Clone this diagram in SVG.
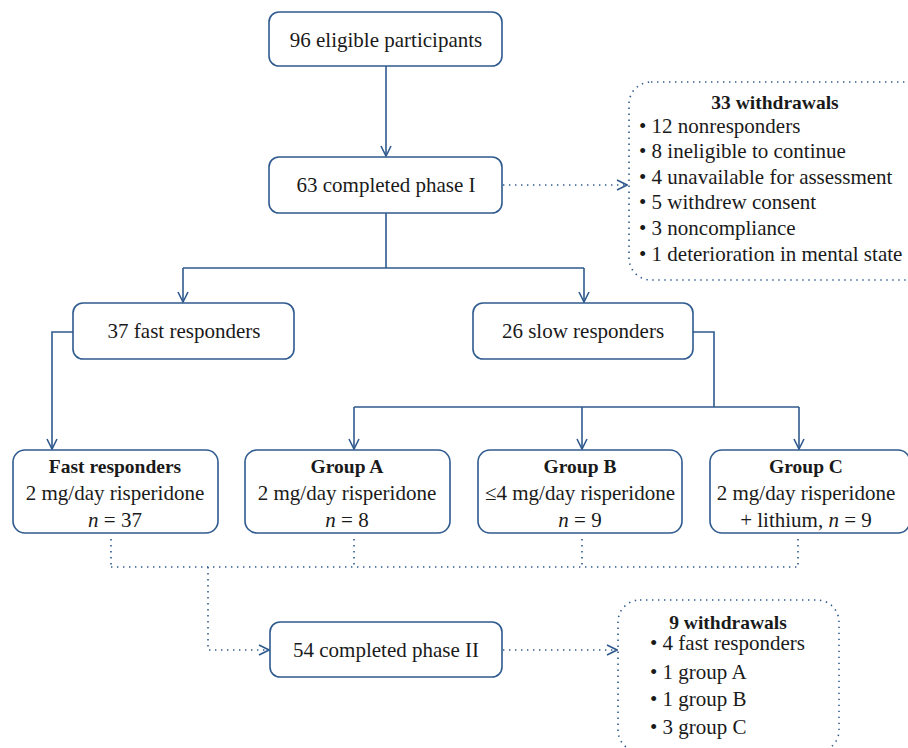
<svg xmlns="http://www.w3.org/2000/svg" width="908" height="748" viewBox="0 0 908 748">
<defs>
<style>
.box{fill:#fff;stroke:#2f5a8e;stroke-width:1.6}
.dbox{fill:none;stroke:#2f5a8e;stroke-width:1.6;stroke-dasharray:1.4 4.6}
.ln{fill:none;stroke:#2f5a8e;stroke-width:1.6}
.dl{fill:none;stroke:#2f5a8e;stroke-width:1.6;stroke-dasharray:1.4 4.6}
text{font-family:"Liberation Serif","DejaVu Serif",serif;font-size:21px;fill:#1a1a1a}
.c{text-anchor:middle}
.b{font-weight:bold;font-size:19.5px}
.i{font-style:italic}
</style>
<marker id="ah" viewBox="0 0 12 12" refX="11" refY="6" markerWidth="12" markerHeight="12" markerUnits="userSpaceOnUse" orient="auto">
<path d="M1,1 L11,6 L1,11" fill="none" stroke="#2f5a8e" stroke-width="1.6"/>
</marker>
</defs>
<rect width="908" height="748" fill="#fff"/>
<g id="connectors">
<path class="ln" d="M386,66 V156" marker-end="url(#ah)"/>
<path class="dl" d="M503,185 H627" marker-end="url(#ah)"/>
<path class="ln" d="M386,213 V268 M183,268 H584"/>
<path class="ln" d="M183,268 V302" marker-end="url(#ah)"/>
<path class="ln" d="M584,268 V302" marker-end="url(#ah)"/>
<path class="ln" d="M73,332 H52 V449" marker-end="url(#ah)"/>
<path class="ln" d="M693,332 H714 V407 M354,407 H799"/>
<path class="ln" d="M354,407 V449" marker-end="url(#ah)"/>
<path class="ln" d="M582,407 V449" marker-end="url(#ah)"/>
<path class="ln" d="M799,407 V449" marker-end="url(#ah)"/>
<path class="dl" d="M111,539 V567 M354,539 V567 M582,539 V567 M798,539 V567 M111,567 H798"/>
<path class="dl" d="M208,567 V650 H269" marker-end="url(#ah)"/>
<path class="dl" d="M503,650 H617" marker-end="url(#ah)"/>
</g>
<g id="n1"><rect class="box" x="269" y="12" width="233" height="54" rx="10"/><text class="c" x="386" y="47">96 eligible participants</text></g>
<g id="n2"><rect class="box" x="269" y="157" width="233" height="56" rx="10"/><text class="c" x="386" y="192">63 completed phase I</text></g>
<g id="w1"><rect class="dbox" x="629" y="82" width="300" height="198" rx="22"/>
<text class="c b" x="775" y="109">33 withdrawals</text>
<text x="639" y="133">• 12 nonresponders</text>
<text x="639" y="158">• 8 ineligible to continue</text>
<text x="639" y="184">• 4 unavailable for assessment</text>
<text x="639" y="209">• 5 withdrew consent</text>
<text x="639" y="235">• 3 noncompliance</text>
<text x="639" y="261">• 1 deterioration in mental state</text>
</g>
<g id="n3"><rect class="box" x="73" y="303" width="221" height="56" rx="10"/><text class="c" x="184" y="338">37 fast responders</text></g>
<g id="n4"><rect class="box" x="473" y="303" width="220" height="56" rx="10"/><text class="c" x="583" y="338">26 slow responders</text></g>
<g id="n5"><rect class="box" x="13" y="450" width="205" height="83" rx="12"/>
<text class="c b" x="115" y="473">Fast responders</text>
<text class="c" x="115" y="500">2 mg/day risperidone</text>
<text class="c" x="115" y="527"><tspan class="i">n</tspan> = 37</text></g>
<g id="n6"><rect class="box" x="245" y="450" width="205" height="83" rx="12"/>
<text class="c b" x="347" y="473">Group A</text>
<text class="c" x="347" y="500">2 mg/day risperidone</text>
<text class="c" x="347" y="527"><tspan class="i">n</tspan> = 8</text></g>
<g id="n7"><rect class="box" x="478" y="450" width="204" height="83" rx="12"/>
<text class="c b" x="580" y="473">Group B</text>
<text class="c" x="580" y="500">≤4 mg/day risperidone</text>
<text class="c" x="580" y="527"><tspan class="i">n</tspan> = 9</text></g>
<g id="n8"><rect class="box" x="710" y="450" width="200" height="83" rx="12"/>
<text class="c b" x="806" y="473">Group C</text>
<text class="c" x="806" y="500">2 mg/day risperidone</text>
<text class="c" x="806" y="527">+ lithium, <tspan class="i">n</tspan> = 9</text></g>
<g id="n9"><rect class="box" x="270" y="622" width="232" height="55" rx="10"/><text class="c" x="386" y="657">54 completed phase II</text></g>
<g id="w2"><rect class="dbox" x="618" y="600" width="221" height="152" rx="22"/>
<text class="c b" x="728" y="629">9 withdrawals</text>
<text x="650" y="650">• 4 fast responders</text>
<text x="650" y="679">• 1 group A</text>
<text x="650" y="706">• 1 group B</text>
<text x="650" y="734">• 3 group C</text>
</g>
</svg>
